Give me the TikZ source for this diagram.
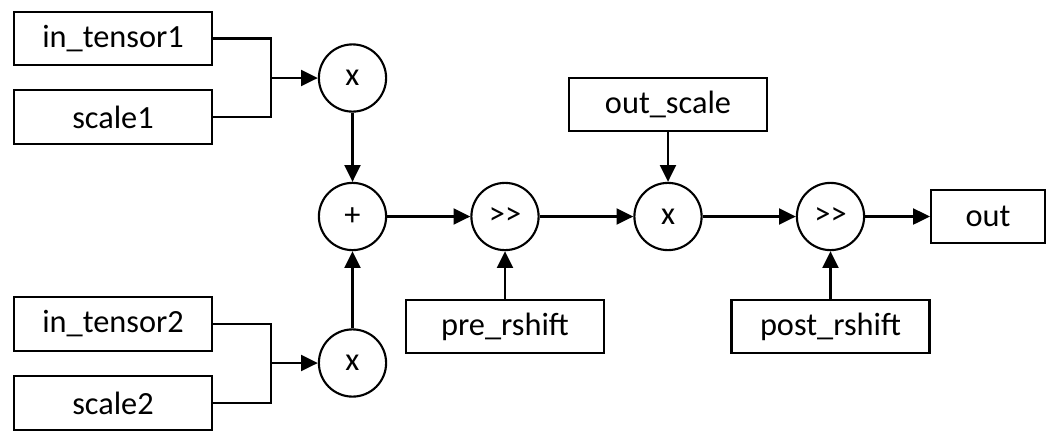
\documentclass[tikz,border=0pt]{standalone}
\usepackage{fontspec}
\setmainfont{Carlito}
\usetikzlibrary{arrows.meta}

\begin{document}
\begin{tikzpicture}[x=0.025cm, y=-0.025cm,
    font=\fontsize{23}{27}\selectfont,
    box/.style={draw,
        line width=1.5pt,
        minimum width=4.95cm,
        minimum height=1.33cm,
        inner sep=0pt},
    op/.style={draw,
        circle,
        line width=1.5pt,
        minimum size=1.68cm,
        inner sep=0pt},
    wire/.style={line width=1.5pt},
    arr/.style={line width=1.5pt,
        -{Triangle[length=0.42cm, width=0.4cm]}}]
    \useasboundingbox (0,0) rectangle (1047,430);
                % First product
                \node [box] (in1) at (113,38.5) {in\_tensor1};
                \node [box] (sc1) at (113,117) {scale1};
                \node [op] (m1) at (352.5,78) {x};
                \coordinate (j1) at (271,78);
                % Second product
                \node [box] (in2) at (113,324) {in\_tensor2};
                \node [box] (sc2) at (113,403) {scale2};
                \node [op] (m2) at (352.5,363) {x};
                \coordinate (j2) at (271,363);
                % Main chain
                \node [op] (add) at (352.5,216.5) {+};
                \node [op] (sh1) at (505,216.5) {>{}>};
                \node [op] (m3) at (668,216.5) {x};
                \node [op] (sh2) at (830.5,216.5) {>{}>};
                \node [box,
                    minimum width=2.85cm] (out) at (988,216.5) {out};
                % Side inputs
                \node [box] (osc) at (668,104.5) {out\_scale};
                \node [box] (pre) at (505,326.5) {pre\_rshift};
                \node [box] (post) at (830.5,326.5) {post\_rshift};
                % Connectors
                \draw [wire] (in1.east) -| (j1);
                \draw [wire] (sc1.east) -| (j1);
                \draw [arr] (j1) -- (m1);
                \draw [wire] (in2.east) -| (j2);
                \draw [wire] (sc2.east) -| (j2);
                \draw [arr] (j2) -- (m2);
                \draw [arr] (m1) -- (add);
                \draw [arr] (m2) -- (add);
                \draw [arr] (add) -- (sh1);
                \draw [arr] (sh1) -- (m3);
                \draw [arr] (m3) -- (sh2);
                \draw [arr] (sh2) -- (out);
                \draw [arr] (osc) -- (m3);
                \draw [arr] (pre) -- (sh1);
                \draw [arr] (post) -- (sh2);
            \end{tikzpicture}
\end{document}
